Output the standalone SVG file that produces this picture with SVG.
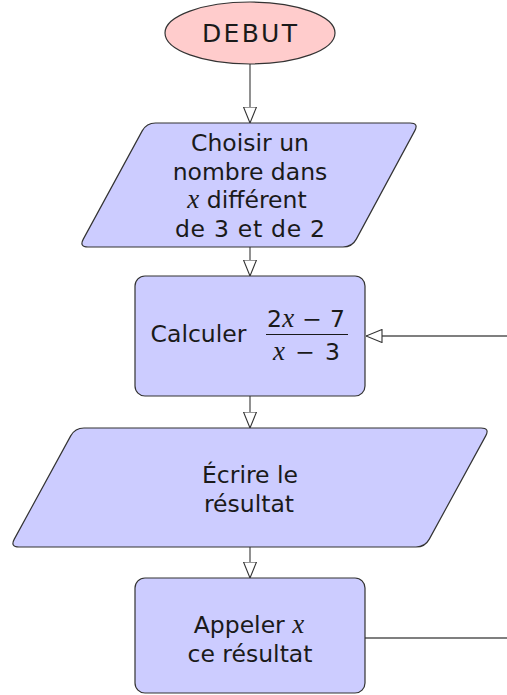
<svg xmlns="http://www.w3.org/2000/svg" width="507" height="695" viewBox="0 0 507 695">
<style>
.t{font-family:"DejaVu Sans",sans-serif;font-size:23.5px;fill:#1a1a1a;text-anchor:middle}
.m{font-family:"Liberation Serif","DejaVu Serif",serif;font-style:italic;font-size:27px}
.blue{fill:#ccccff;stroke:#333;stroke-width:1.2}
.conn{stroke:#555;stroke-width:1.3;fill:none}
</style>
<defs>
<marker id="ah" viewBox="0 0 17 14" refX="16.5" refY="7" markerWidth="17" markerHeight="14" orient="auto" markerUnits="userSpaceOnUse">
<path d="M0.5,0.5 L16.5,7 L0.5,13.5 Z" fill="#fff" stroke="#333" stroke-width="1.1"/>
</marker>
</defs>
<g id="connectors">
<line class="conn" x1="250" y1="64" x2="250" y2="123" marker-end="url(#ah)"/>
<line class="conn" x1="250" y1="247" x2="250" y2="276" marker-end="url(#ah)"/>
<line class="conn" x1="250" y1="396" x2="250" y2="428" marker-end="url(#ah)"/>
<line class="conn" x1="250" y1="547" x2="250" y2="578" marker-end="url(#ah)"/>
<line class="conn" x1="507" y1="336" x2="366" y2="336" marker-end="url(#ah)"/>
<line class="conn" x1="365" y1="638" x2="507" y2="638"/>
</g>
<g id="debut">
<ellipse cx="250" cy="33" rx="85" ry="31" fill="#ffcccc" stroke="#333" stroke-width="1.2"/>
<text class="t" x="249.5" y="42" style="font-size:25px" textLength="95" lengthAdjust="spacing">DEBUT</text>
</g>
<g id="choisir">
<path class="blue" d="M155.5,123 L410,123 Q419,123 414.7,130.9 L356.3,239.1 Q352,247 343,247 L88,247 Q79,247 83.3,239.1 L142.2,130.9 Q146.5,123 155.5,123 Z"/>
<text class="t" x="250" y="151">Choisir un</text>
<text class="t" x="250" y="180">nombre dans</text>
<text class="t" x="247" y="208"><tspan class="m">x</tspan> différent</text>
<text class="t" x="250" y="237" textLength="150" lengthAdjust="spacing">de 3 et de 2</text>
</g>
<g id="calculer">
<rect class="blue" x="135" y="276" width="230" height="120" rx="10" ry="10"/>
<text class="t" x="198.5" y="342">Calculer</text>
<text class="t" x="306" y="327" textLength="78" lengthAdjust="spacing">2<tspan class="m">x</tspan> − 7</text>
<line x1="266" y1="334.5" x2="348" y2="334.5" stroke="#1a1a1a" stroke-width="1.2"/>
<text class="t" x="306.5" y="360" textLength="67" lengthAdjust="spacing"><tspan class="m">x</tspan> − 3</text>
</g>
<g id="ecrire">
<path class="blue" d="M84,428 L481,428 Q490,428 485.7,435.9 L429.3,539.1 Q425,547 416,547 L19,547 Q10,547 14.3,539.1 L70.7,435.9 Q75,428 84,428 Z"/>
<text class="t" x="250" y="483">Écrire le</text>
<text class="t" x="249" y="512">résultat</text>
</g>
<g id="appeler">
<rect class="blue" x="135" y="578" width="230" height="115" rx="10" ry="10"/>
<text class="t" x="249" y="633">Appeler <tspan class="m">x</tspan></text>
<text class="t" x="250" y="662">ce résultat</text>
</g>
</svg>
